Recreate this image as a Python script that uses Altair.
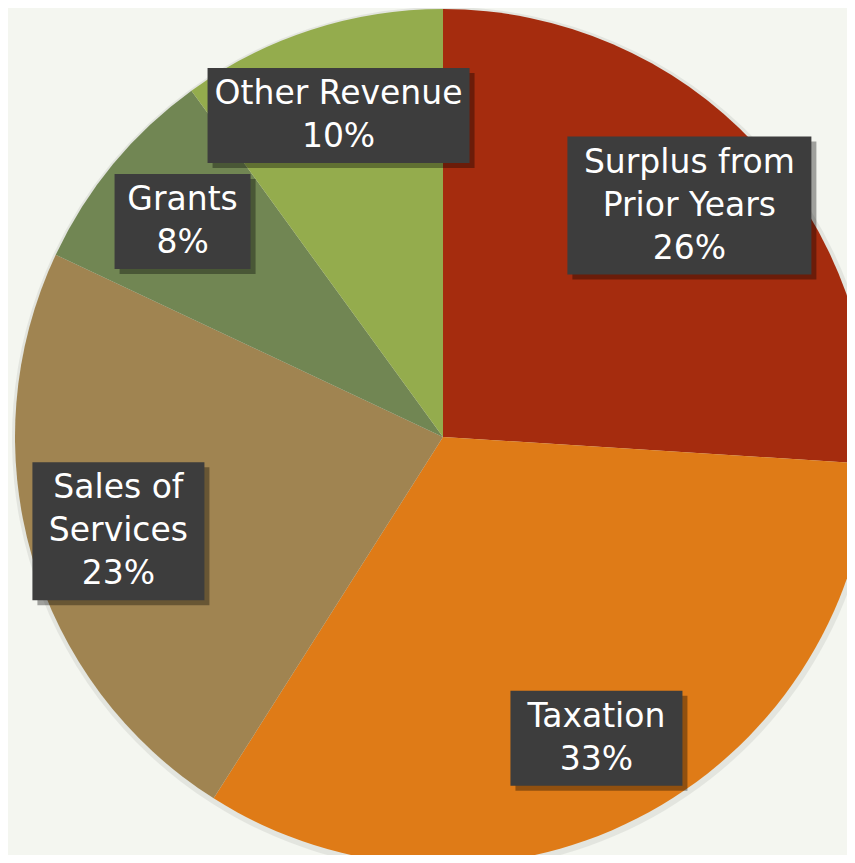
import altair as alt
import pandas as pd

categories = ["Surplus from Prior Years", "Taxation", "Sales of Services", "Grants", "Other Revenue"]
label_lines = ["Surplus from\nPrior Years", "Taxation", "Sales of\nServices", "Grants", "Other Revenue"]
shares = [26, 33, 23, 8, 10]
colors = ["#a52c0e", "#df7b17", "#a08451", "#718653", "#94ac4d"]

W, H = 839, 847
CX, CY = 435, 429
R = 428
LR = 338
LH = 43

df = pd.DataFrame({"cat": categories, "lab": label_lines, "v": shares, "idx": list(range(len(shares)))})
df["text"] = df["lab"] + "\n" + df["v"].astype(str) + "%"
df["nlines"] = df["text"].str.count("\n") + 1
df["maxch"] = df["text"].apply(lambda s: max(len(t) for t in s.split("\n")))

xs = alt.Scale(domain=[0, W])
ys = alt.Scale(domain=[0, H], reverse=True)

pie_shadow = alt.Chart(df).mark_arc(radius=R + 4, color="#cfd1ca", opacity=0.45).encode(
    theta=alt.Theta("v:Q", stack=True),
    order=alt.Order("idx:Q"),
    x=alt.value(CX + 1), y=alt.value(CY + 2),
)

pie = alt.Chart(df).mark_arc(radius=R).encode(
    theta=alt.Theta("v:Q", stack=True),
    color=alt.Color("cat:N", scale=alt.Scale(domain=categories, range=colors), legend=None),
    order=alt.Order("idx:Q"),
    x=alt.value(CX), y=alt.value(CY),
)

lab = alt.Chart(df).transform_joinaggregate(total="sum(v)").transform_window(
    cum="sum(v)", sort=[alt.SortField("idx")], frame=[None, 0]
).transform_calculate(
    mid="(datum.cum - datum.v/2) / datum.total * 2 * PI",
    xp=f"{CX} + {LR} * sin(datum.mid)",
    yp=f"{CY} - {LR} * cos(datum.mid)",
    bw="18 * datum.maxch + 28",
    bh=f"{LH} * datum.nlines + 9",
).transform_calculate(
    ty=f"datum.yp - (datum.nlines - 1) * {LH} / 2",
    x1="datum.xp - datum.bw / 2",
    x2="datum.xp + datum.bw / 2",
    y1="datum.yp - datum.bh / 2",
    y2="datum.yp + datum.bh / 2",
    sx1="datum.xp - datum.bw / 2 + 5",
    sx2="datum.xp + datum.bw / 2 + 5",
    sy1="datum.yp - datum.bh / 2 + 5",
    sy2="datum.yp + datum.bh / 2 + 5",
)

shadow = lab.mark_rect(color="#000000", opacity=0.35).encode(
    x=alt.X("sx1:Q", scale=xs, axis=None), x2="sx2:Q",
    y=alt.Y("sy1:Q", scale=ys, axis=None), y2="sy2:Q",
)
box = lab.mark_rect(color="#3d3d3d").encode(
    x=alt.X("x1:Q", scale=xs, axis=None), x2="x2:Q",
    y=alt.Y("y1:Q", scale=ys, axis=None), y2="y2:Q",
)
txt = lab.mark_text(
    lineBreak="\n", fontSize=33, font="DejaVu Sans", color="white",
    lineHeight=LH, baseline="middle", align="center",
).encode(
    x=alt.X("xp:Q", scale=xs, axis=None),
    y=alt.Y("ty:Q", scale=ys, axis=None),
    text="text:N",
)

chart = alt.layer(pie_shadow, pie, shadow, box, txt).properties(
    width=W, height=H, padding=0, autosize=alt.AutoSizeParams(type="none"),
    background="#f4f6f0",
).configure_view(stroke=None)

chart.save("out.html", embed_options={"renderer": "svg", "actions": False})
